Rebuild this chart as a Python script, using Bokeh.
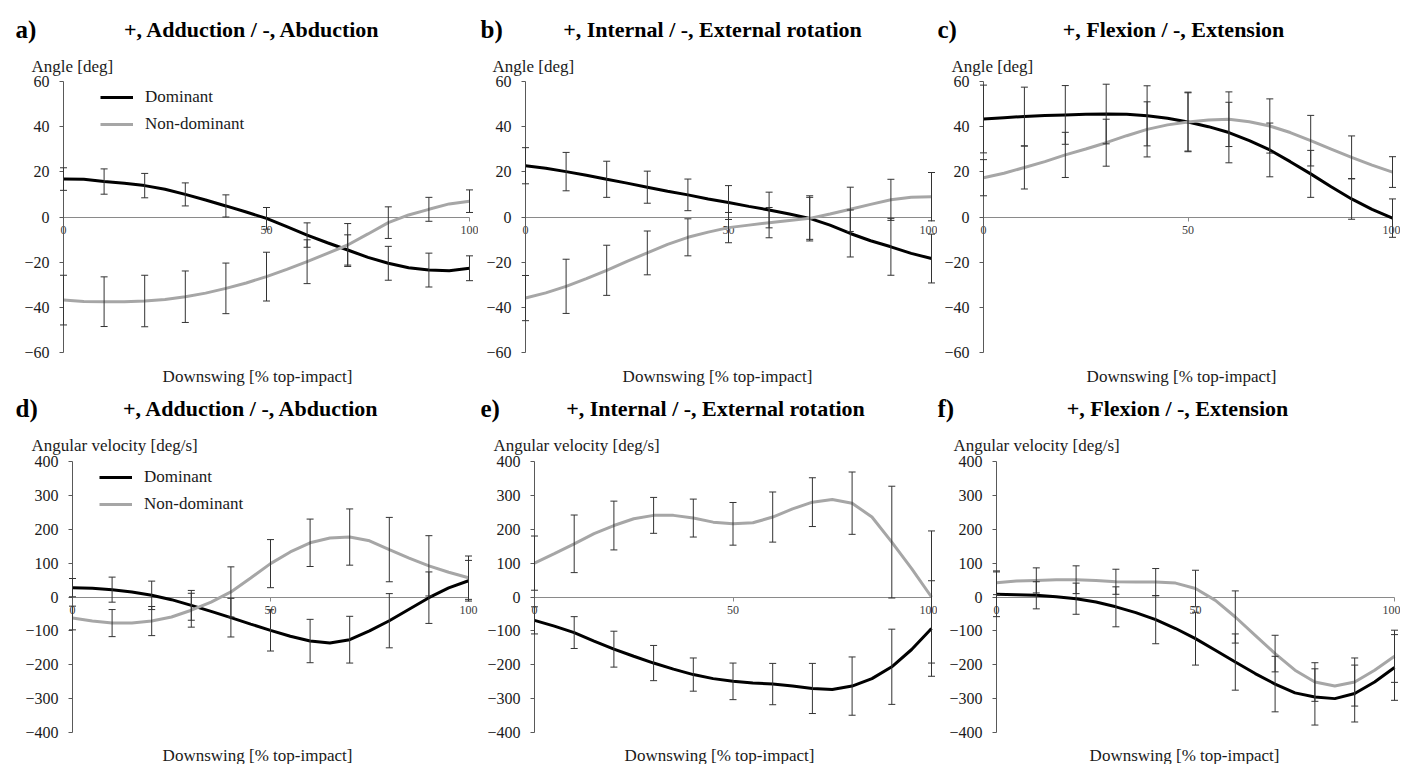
from bokeh.plotting import figure
from bokeh.models import (Range1d, Label, Legend, LegendItem, Whisker, TeeHead,
                          ColumnDataSource, FixedTicker, LinearAxis)
from bokeh.layouts import row, column
from bokeh.embed import file_html
from bokeh.resources import INLINE

# ---------------- data ----------------
pct_curve = [0, 5, 10, 15, 20, 25, 30, 35, 40, 45, 50, 55, 60, 65, 70, 75, 80, 85, 90, 95, 100]
pct_err = [0, 10, 20, 30, 40, 50, 60, 70, 80, 90, 100]

# a) angle, adduction/abduction
a_dom = [16.8, 16.7, 15.7, 14.9, 13.9, 12.3, 10.0, 7.5, 4.9, 2.2, -0.6, -4.3, -8.0, -11.4, -14.6, -17.9, -20.5, -22.5, -23.5, -23.8, -22.7]
a_non = [-36.8, -37.4, -37.5, -37.5, -37.2, -36.5, -35.3, -33.7, -31.6, -29.2, -26.4, -23.2, -19.8, -16.1, -12.4, -7.5, -2.5, 0.9, 3.4, 5.8, 7.0]
a_dom_sd = [5, 5.6, 5.4, 5.1, 4.9, 4.8, 5.4, 6.7, 7.5, 7.5, 5.5]
a_non_sd = [11, 11, 11.4, 11.4, 11.2, 10.8, 9.7, 9.5, 7, 5.3, 5]

# b) angle, internal/external rotation
b_dom = [22.7, 21.6, 20.1, 18.5, 16.7, 15.0, 13.2, 11.4, 9.8, 8.0, 6.4, 4.7, 3.1, 1.3, -0.6, -3.6, -7.3, -10.5, -13.2, -16.1, -18.4]
b_non = [-35.9, -33.6, -30.7, -27.3, -23.6, -19.6, -15.9, -12.1, -9.0, -6.7, -4.7, -3.6, -2.5, -1.5, -0.6, 1.3, 3.4, 5.6, 7.6, 8.7, 9.0]
b_dom_sd = [8, 8.5, 8, 7.1, 7, 7.5, 7.9, 9.3, 10.4, 12.6, 10.8]
b_non_sd = [10, 12, 11.1, 9.7, 8.2, 6.7, 6.7, 10, 9.8, 9.1, 10.7]

# c) angle, flexion/extension
c_dom = [43.4, 44.0, 44.5, 44.9, 45.2, 45.5, 45.6, 45.5, 44.8, 43.7, 42.1, 40.0, 37.4, 33.8, 29.7, 24.5, 19.1, 13.4, 8.0, 3.4, -0.5]
c_non = [17.4, 19.4, 21.9, 24.5, 27.5, 30.1, 32.9, 36.0, 38.8, 40.8, 42.1, 43.0, 43.3, 42.2, 40.3, 37.4, 33.8, 30.1, 26.4, 23.0, 19.9]
c_dom_sd = [15, 13, 13, 13.2, 13.3, 13.2, 13.4, 11.9, 10.4, 9, 8.5]
c_non_sd = [8, 9.5, 10, 10.4, 12.2, 12.9, 12.1, 12, 11.2, 9.5, 6.8]

# d) angular velocity, adduction/abduction
d_dom = [27.6, 25.6, 21.7, 14.8, 4.9, -7.9, -24.6, -42.4, -61, -80, -98.5, -116, -130, -136, -126, -100, -70, -36, -2, 27, 48]
d_non = [-62, -71, -77, -77, -71, -59, -39, -15, 15, 56, 98.5, 133, 160, 174, 177, 166, 140, 115, 92, 73, 57]
d_dom_sd = [27, 37, 42, 44, 57, 61, 64, 69, 80, 76, 60]
d_non_sd = [35, 40, 43, 50, 74, 71, 70, 83, 95, 89, 64]

# e) angular velocity, internal/external rotation
e_dom = [-69, -86, -105, -130, -154, -175, -195, -213, -229, -241, -249, -254, -257, -263, -270, -273, -263, -241, -206, -155, -93]
e_non = [100, 128, 157, 187, 211, 231, 241, 241, 233, 221, 216, 219, 236, 260, 280, 288, 277, 236, 162, 84, 0]
e_dom_sd = [40, 47, 53, 52, 49, 54, 61, 74, 86, 111, 141]
e_non_sd = [80, 85, 72, 53, 56, 63, 74, 72, 92, 165, 195]

# f) angular velocity, flexion/extension
f_dom = [8, 7, 5, 1, -5, -15, -29, -46, -67, -93, -123, -157, -192, -226, -257, -283, -295, -300, -285, -251, -208]
f_non = [42, 47, 49, 51, 51, 49, 45, 44, 44, 41, 25, -10, -59, -113, -167, -216, -251, -263, -251, -216, -175]
f_dom_sd = [66, 40, 46, 59, 71, 78, 83, 82, 83, 84, 97]
f_non_sd = [35, 37, 41, 37, 40, 54, 77, 54, 57, 71, 77]

panel_letters = ["a)", "b)", "c)", "d)", "e)", "f)"]
panel_titles = ["+, Adduction / -, Abduction", "+, Internal / -, External rotation",
                "+, Flexion / -, Extension", "+, Adduction / -, Abduction",
                "+, Internal / -, External rotation", "+, Flexion / -, Extension"]
y_titles = ["Angle [deg]"] * 3 + ["Angular velocity [deg/s]"] * 3
x_title = "Downswing [% top-impact]"
angle_ticks = [-60, -40, -20, 0, 20, 40, 60]
vel_ticks = [-400, -300, -200, -100, 0, 100, 200, 300, 400]
x_ticks = [0, 50, 100]
legend_labels = ["Dominant", "Non-dominant"]

# ---------------- style ----------------
SERIF = "Liberation Serif"
DOM_COLOR = "#000000"
NON_COLOR = "#a6a6a6"
BAR_COLOR = "#333333"
TEXT_COLOR = "#1a1a1a"

# figure boxes in page px (left, top, right, bottom) and plot-box pixels
# (px of x=0, px of x=100, px of y max, px of y min); text anchors in page px
geoms = [
    dict(box=(0, 0, 478, 386), pb=(63, 469, 81, 352),
         letter=(15, 29), title=(252, 29), ytitle=(31, 66), xtitle=(257, 376), legend=(100, 134)),
    dict(box=(478, 0, 937, 386), pb=(525, 931, 81, 352),
         letter=(480, 29), title=(712, 29), ytitle=(492, 66), xtitle=(717, 376), legend=None),
    dict(box=(937, 0, 1400, 386), pb=(983, 1392, 81, 352),
         letter=(937, 29), title=(1173, 29), ytitle=(951, 66), xtitle=(1181, 376), legend=None),
    dict(box=(0, 386, 478, 764), pb=(72, 468, 461, 732),
         letter=(15, 408), title=(251, 408), ytitle=(31, 445), xtitle=(257, 755), legend=(99, 514)),
    dict(box=(478, 386, 937, 764), pb=(534, 931, 461, 732),
         letter=(480, 408), title=(715, 408), ytitle=(493, 445), xtitle=(719, 755), legend=None),
    dict(box=(937, 386, 1400, 764), pb=(996, 1394, 461, 732),
         letter=(937, 408), title=(1177, 408), ytitle=(953, 445), xtitle=(1184, 755), legend=None),
]


def add_text(p, g, pos, text, size, bold=False, align="left"):
    L, T, R, B = g["box"]
    p.add_layout(Label(x=pos[0] - L, y=B - pos[1], x_units="screen", y_units="screen",
                       text=text, text_font=SERIF, text_font_size=size,
                       text_font_style="bold" if bold else "normal",
                       text_color="#000000" if bold else TEXT_COLOR,
                       text_align=align, text_baseline="alphabetic"))


def make_panel(i, yticks, dom, non, dom_sd, non_sd):
    g = geoms[i]
    L, T, R, B = g["box"]
    x0p, x1p, ytp, ybp = g["pb"]
    ymin, ymax = yticks[0], yticks[-1]
    xs = (x1p - x0p) / 100.0
    ys = (ybp - ytp) / float(ymax - ymin)
    xr = Range1d((L - x0p) / xs, (R - x0p) / xs)
    yr = Range1d(ymax - (B - ytp) / ys, ymax + (ytp - T) / ys)

    p = figure(width=R - L, height=B - T, output_backend="svg", toolbar_location=None,
               x_range=xr, y_range=yr, x_axis_location=None, y_axis_location=None,
               min_border=0, min_border_left=0, min_border_right=0,
               min_border_top=0, min_border_bottom=0, title=None)
    p.outline_line_color = None
    p.background_fill_color = "white"
    p.border_fill_color = "white"
    for gr in p.grid:
        gr.visible = False
    p.xgrid.grid_line_color = None
    p.ygrid.grid_line_color = None

    ya = LinearAxis(fixed_location=0, bounds=(ymin, ymax), ticker=FixedTicker(ticks=yticks),
                    axis_line_color="#595959", major_tick_line_color="#595959",
                    major_tick_out=4, major_tick_in=0, minor_tick_out=0, minor_tick_in=0,
                    major_label_standoff=10, major_label_text_font=SERIF,
                    major_label_text_font_size="16px", major_label_text_color=TEXT_COLOR)
    p.add_layout(ya, "left")

    xa = LinearAxis(fixed_location=0, bounds=(0, 100), ticker=FixedTicker(ticks=x_ticks),
                    axis_line_color="#8a8a8a", major_tick_line_color="#8a8a8a",
                    major_tick_out=4, major_tick_in=0, minor_tick_out=0, minor_tick_in=0,
                    major_label_standoff=5, major_label_text_font=SERIF,
                    major_label_text_font_size="12px", major_label_text_color="#404040",
                    level="underlay")
    p.add_layout(xa, "below")

    r_dom = p.line(pct_curve, dom, line_color=DOM_COLOR, line_width=3)
    r_non = p.line(pct_curve, non, line_color=NON_COLOR, line_width=3)

    for means, sds in ((dom, dom_sd), (non, non_sd)):
        m = means[::2]
        src = ColumnDataSource(dict(x=pct_err,
                                    lo=[a - s for a, s in zip(m, sds)],
                                    hi=[a + s for a, s in zip(m, sds)]))
        w = Whisker(source=src, base="x", lower="lo", upper="hi",
                    line_color=BAR_COLOR, line_width=1, level="annotation",
                    upper_head=TeeHead(size=7, line_color=BAR_COLOR, line_width=1),
                    lower_head=TeeHead(size=7, line_color=BAR_COLOR, line_width=1))
        p.add_layout(w)

    if g["legend"] is not None:
        lx, lby = g["legend"]
        leg = Legend(items=[LegendItem(label=legend_labels[0], renderers=[r_dom]),
                            LegendItem(label=legend_labels[1], renderers=[r_non])],
                     location=(lx - L, B - lby), padding=0, margin=0, spacing=7,
                     glyph_width=33, glyph_height=20, label_standoff=12,
                     label_text_font=SERIF, label_text_font_size="17px",
                     label_text_color=TEXT_COLOR,
                     border_line_color=None, background_fill_alpha=0)
        p.add_layout(leg)

    add_text(p, g, g["letter"], panel_letters[i], "25px", bold=True)
    add_text(p, g, g["title"], panel_titles[i], "22px", bold=True, align="center")
    add_text(p, g, g["ytitle"], y_titles[i], "17px")
    add_text(p, g, g["xtitle"], x_title, "17px", align="center")
    return p


pa = make_panel(0, angle_ticks, a_dom, a_non, a_dom_sd, a_non_sd)
pb = make_panel(1, angle_ticks, b_dom, b_non, b_dom_sd, b_non_sd)
pc = make_panel(2, angle_ticks, c_dom, c_non, c_dom_sd, c_non_sd)
pd_ = make_panel(3, vel_ticks, d_dom, d_non, d_dom_sd, d_non_sd)
pe = make_panel(4, vel_ticks, e_dom, e_non, e_dom_sd, e_non_sd)
pf = make_panel(5, vel_ticks, f_dom, f_non, f_dom_sd, f_non_sd)

layout = column(row(pa, pb, pc), row(pd_, pe, pf))
open("out.html", "w").write(file_html(layout, INLINE))
